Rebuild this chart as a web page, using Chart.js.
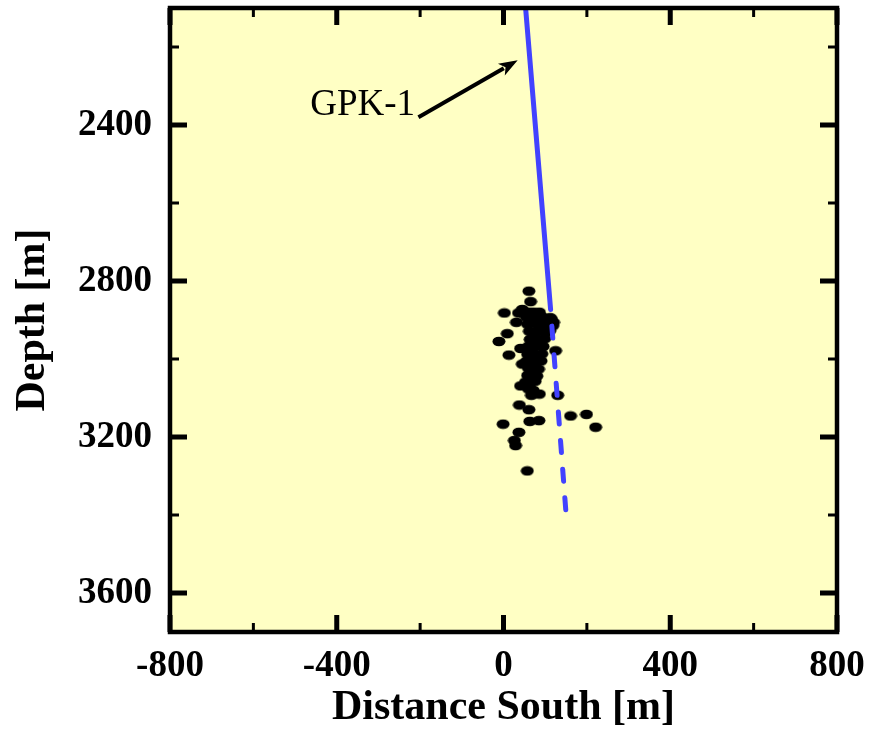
<!DOCTYPE html>
<html>
<head>
<meta charset="utf-8">
<script src="https://cdn.jsdelivr.net/npm/chart.js@4.4.0/dist/chart.umd.min.js"></script>
<style>
  html, body { margin: 0; padding: 0; background: #fff; }
</style>
</head>
<body>
<canvas id="grafico" width="870" height="733"></canvas>
<script>
// eixos
const xTicks = [-800, -600, -400, -200, 0, 200, 400, 600, 800];
const xLabels = [-800, -400, 0, 400, 800];
const depthTicks = [2200, 2400, 2600, 2800, 3000, 3200, 3400, 3600];
const depthLabels = [2400, 2800, 3200, 3600];

// poço GPK-1 (parte solida e prolongamento tracejado)
const wellSolidX = [53, 113];
const wellSolidDepth = [2100, 2873];
const wellDashX = [113, 150];
const wellDashDepth = [2873, 3396];

// rotulo e seta
const wellName = "GPK-1";
const labelX = -212;
const labelDepth = 2350;
const arrowX = [-204, 34];
const arrowDepth = [2380, 2234];

// sismos
const quakeX = [
  61, 65, 2, 45, 86, 9, -11, 31, 41, 13, 125, 45, 41, 86, 130, 38, 61, 161, 199, 221,
  -1, 63, 85, 37, 26, 29, 57, 60, 72, 120, 115, 36,
  55, 66, 78, 90, 101, 112,
  58, 71, 84, 95, 107, 118,
  62, 76, 89, 100, 111,
  64, 77, 88, 99,
  60, 72, 84, 95,
  58, 70, 81, 92,
  55, 67, 79, 90,
  60, 72, 84,
  58, 69, 80,
  53, 64, 76,
  60, 71,
  67
];
const quakeDepth = [
  2826, 2853, 2882, 2873, 2880, 2935, 2955, 2906, 2973, 2990, 2979, 3013, 3069, 3090, 3093, 3118, 3130, 3146, 3142, 3175,
  3167, 3160, 3158, 3188, 3209, 3222, 3287, 2880, 2880, 2906, 2898, 2882,
  2893, 2889, 2896, 2890, 2897, 2894,
  2911, 2908, 2914, 2909, 2912, 2915,
  2929, 2931, 2926, 2933, 2928,
  2950, 2947, 2952, 2948,
  2967, 2970, 2965, 2968,
  2988, 2985, 2990, 2987,
  3006, 3003, 3008, 3005,
  3024, 3021, 3026,
  3042, 3039, 3044,
  3059, 3062, 3057,
  3077, 3080,
  3093
];

const toPoints = (xs, ys) => xs.map((x, i) => ({ x: x, y: ys[i] }));

// elipse preta pros pontos
const dot = document.createElement("canvas");
dot.width = 14;
dot.height = 11;
const dctx = dot.getContext("2d");
dctx.fillStyle = "#000";
dctx.beginPath();
dctx.ellipse(7, 5.5, 6.5, 4.8, 0, 0, Math.PI * 2);
dctx.fill();

const serif = '"Liberation Serif", "Times New Roman", serif';

const moldura = {
  id: "moldura",
  beforeDraw(chart) {
    const { ctx, chartArea: a } = chart;
    ctx.save();
    ctx.fillStyle = "#ffffc4";
    ctx.fillRect(a.left, a.top, a.right - a.left, a.bottom - a.top);
    ctx.restore();
  },
  afterDatasetsDraw(chart) {
    const { ctx, scales } = chart;
    const x0 = scales.x.getPixelForValue(arrowX[0]);
    const y0 = scales.y.getPixelForValue(arrowDepth[0]);
    const x1 = scales.x.getPixelForValue(arrowX[1]);
    const y1 = scales.y.getPixelForValue(arrowDepth[1]);
    const ang = Math.atan2(y1 - y0, x1 - x0);
    const head = 20;
    ctx.save();
    ctx.strokeStyle = "#000";
    ctx.fillStyle = "#000";
    ctx.lineWidth = 4;
    ctx.beginPath();
    ctx.moveTo(x0, y0);
    ctx.lineTo(x1 - Math.cos(ang) * head * 0.8, y1 - Math.sin(ang) * head * 0.8);
    ctx.stroke();
    ctx.beginPath();
    ctx.moveTo(x1, y1);
    ctx.lineTo(x1 - head * Math.cos(ang - 0.35), y1 - head * Math.sin(ang - 0.35));
    ctx.lineTo(x1 - head * 0.7 * Math.cos(ang), y1 - head * 0.7 * Math.sin(ang));
    ctx.lineTo(x1 - head * Math.cos(ang + 0.35), y1 - head * Math.sin(ang + 0.35));
    ctx.closePath();
    ctx.fill();
    ctx.font = "37px " + serif;
    ctx.textAlign = "right";
    ctx.textBaseline = "middle";
    ctx.fillText(wellName, scales.x.getPixelForValue(labelX), scales.y.getPixelForValue(labelDepth));
    ctx.restore();
  },
  afterDraw(chart) {
    const { ctx, chartArea: a, scales } = chart;
    ctx.save();
    ctx.strokeStyle = "#000";
    xTicks.forEach((v) => {
      const px = scales.x.getPixelForValue(v);
      const major = xLabels.includes(v);
      const len = major ? 17 : 9;
      ctx.lineWidth = major ? 5 : 3;
      ctx.beginPath();
      ctx.moveTo(px, a.bottom);
      ctx.lineTo(px, a.bottom - len);
      ctx.moveTo(px, a.top);
      ctx.lineTo(px, a.top + len);
      ctx.stroke();
    });
    depthTicks.forEach((v) => {
      const py = scales.y.getPixelForValue(v);
      const major = depthLabels.includes(v);
      const len = major ? 17 : 9;
      ctx.lineWidth = major ? 5 : 3;
      ctx.beginPath();
      ctx.moveTo(a.left, py);
      ctx.lineTo(a.left + len, py);
      ctx.moveTo(a.right, py);
      ctx.lineTo(a.right - len, py);
      ctx.stroke();
    });
    ctx.lineWidth = 4.5;
    ctx.strokeRect(a.left, a.top, a.right - a.left, a.bottom - a.top);
    ctx.restore();
  },
};

const grafico = new Chart(document.getElementById("grafico"), {
  type: "scatter",
  data: {
    datasets: [
      {
        label: "sismos",
        data: toPoints(quakeX, quakeDepth),
        pointStyle: dot,
        pointRadius: 6,
        pointHoverRadius: 6,
        showLine: false,
        order: 2,
      },
      {
        label: "GPK-1",
        data: toPoints(wellSolidX, wellSolidDepth),
        showLine: true,
        borderColor: "#4242ff",
        borderWidth: 5,
        borderCapStyle: "round",
        pointRadius: 0,
        order: 1,
      },
      {
        label: "GPK-1 tracejado",
        data: toPoints(wellDashX, wellDashDepth),
        showLine: true,
        borderColor: "#4242ff",
        borderWidth: 5,
        borderCapStyle: "round",
        borderDash: [12, 16.7],
        borderDashOffset: 12,
        pointRadius: 0,
        order: 1,
      },
    ],
  },
  options: {
    responsive: false,
    animation: false,
    layout: { padding: { top: 8, right: 33, left: 0, bottom: 0 } },
    plugins: {
      legend: { display: false },
      tooltip: { enabled: false },
    },
    scales: {
      x: {
        type: "linear",
        min: -800,
        max: 800,
        afterBuildTicks: (s) => { s.ticks = xTicks.map((v) => ({ value: v })); },
        afterFit: (s) => { s.height = 101; s.paddingLeft = 0; s.paddingRight = 0; },
        grid: { display: false, drawTicks: false },
        border: { display: false },
        ticks: {
          autoSkip: false,
          maxRotation: 0,
          padding: 12,
          color: "#000",
          font: { family: serif, size: 37, weight: "bold" },
          callback: (v) => (xLabels.includes(v) ? String(v) : ""),
        },
        title: {
          display: true,
          text: "Distance South [m]",
          color: "#000",
          padding: { top: 0, bottom: 0 },
          font: { family: serif, size: 42, weight: "bold" },
        },
      },
      y: {
        type: "linear",
        reverse: true,
        min: 2100,
        max: 3700,
        afterBuildTicks: (s) => { s.ticks = depthTicks.map((v) => ({ value: v })); },
        afterFit: (s) => { s.width = 170; s.paddingTop = 0; s.paddingBottom = 0; },
        grid: { display: false, drawTicks: false },
        border: { display: false },
        ticks: {
          autoSkip: false,
          padding: 18,
          color: "#000",
          font: { family: serif, size: 37, weight: "bold" },
          callback: (v) => (depthLabels.includes(v) ? String(v) : ""),
        },
        title: {
          display: true,
          text: "Depth [m]",
          color: "#000",
          padding: { top: 8, bottom: 0 },
          font: { family: serif, size: 42, weight: "bold" },
        },
      },
    },
  },
  plugins: [moldura],
});
</script>
</body>
</html>
